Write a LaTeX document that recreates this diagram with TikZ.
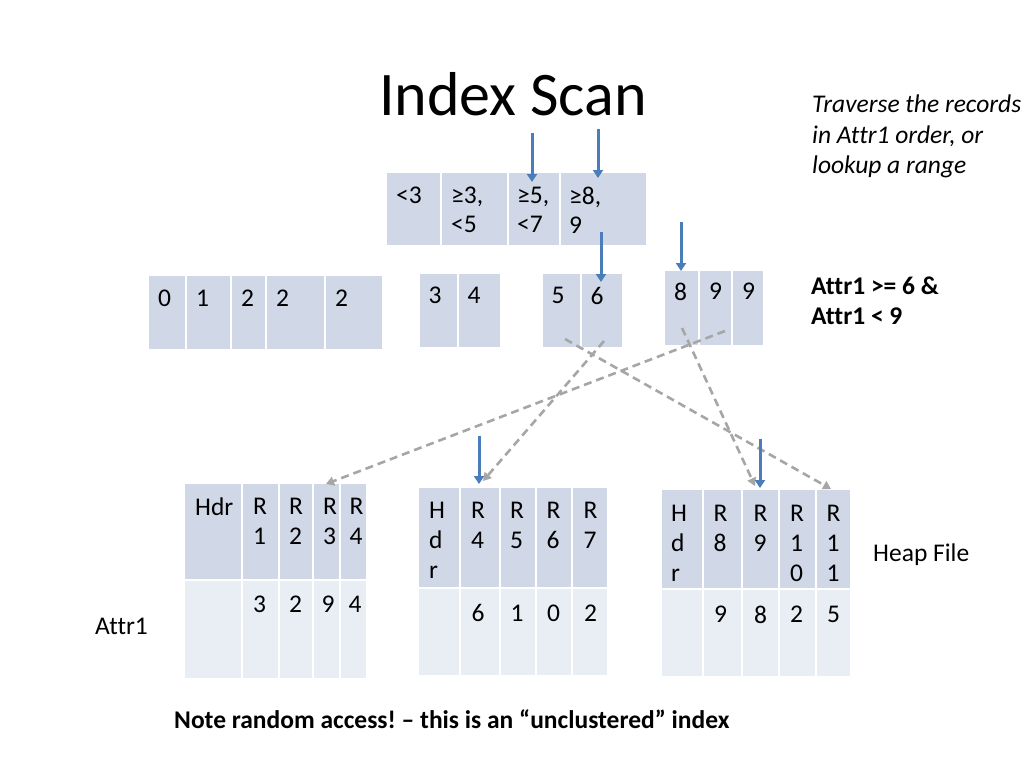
\documentclass[tikz,border=0pt]{standalone}
\usepackage{fontspec}
\setmainfont[Ligatures={TeX,NoCommon}]{Carlito}
\frenchspacing
\usetikzlibrary{arrows.meta,calc}
\definecolor{hdr}{HTML}{D0D8E8}
\definecolor{low}{HTML}{E9EDF4}
\definecolor{blu}{HTML}{4A7EBB}
\definecolor{gry}{HTML}{A6A6A6}
\tikzset{
  cellbox/.style={draw=white, line width=1.5pt, inner sep=0pt, outer sep=0pt, anchor=north west},
  celltxt/.style={inner sep=0pt, anchor=north west, align=left, font=\fontsize{25.5}{30}\selectfont},
  ptr/.style={draw=blu, line width=3pt, -{Triangle[length=8pt,width=10pt]}},
  link/.style={draw=gry, line width=2.6pt, dash pattern=on 8pt off 5pt, -{Triangle[length=8pt,width=9pt]}},
  lbl/.style={inner sep=0pt, font=\fontsize{25.5}{30}\selectfont},
}
\newcommand\mkcell[9]{%
  \node[cellbox, fill=#6, minimum width={#4-#2}, minimum height={#5-#3}] (#1) at (#2,#3) {};
  \node[celltxt] (#1t) at ($(#1.north west)+(#7,#8)$) {#9};
}
\begin{document}
\begin{tikzpicture}[x=1pt,y=-1pt]
\useasboundingbox (0,0) rectangle (1024,768);

% title and labels
\node[inner sep=0pt, anchor=base, font=\fontsize{62}{72}\selectfont] (title) at (513,115) {Index Scan};
\node[lbl, anchor=north west, align=left, font=\itshape\fontsize{25.5}{30.5}\selectfont] (note1) at (812,95) {Traverse the records\\in Attr1 order, or\\lookup a range};
\node[lbl, anchor=north west, align=left, font=\bfseries\fontsize{25.5}{30}\selectfont] (cond) at (811,277) {Attr1 >= 6 \&\\Attr1 < 9};
\node[lbl, anchor=base west] (heap) at (873,561) {Heap File};
\node[lbl, anchor=base west] (attr) at (95,634) {Attr1};
\node[lbl, anchor=base west, font=\bfseries\fontsize{25.5}{30}\selectfont] (note2) at (174,728) {Note random access! – this is an “unclustered” index};

% index node
\begin{scope}[celltxt/.append style={font=\fontsize{25.5}{28.5}\selectfont}]
\mkcell{i1}{386}{172}{441}{246}{hdr}{10}{15}{<3}
\mkcell{i2}{441}{172}{508}{246}{hdr}{10}{15}{≥3,\\<5}
\mkcell{i3}{508}{172}{560}{246}{hdr}{9}{15}{≥5,\\<7}
\mkcell{i4}{560}{172}{647}{246}{hdr}{9}{15}{≥8,\\9}
\end{scope}

% leaves
\mkcell{l1a}{148}{275}{186}{350}{hdr}{10}{14.5}{0}
\mkcell{l1b}{186}{275}{231}{350}{hdr}{10}{14.5}{1}
\mkcell{l1c}{231}{275}{266}{350}{hdr}{10}{14.5}{2}
\mkcell{l1d}{266}{275}{325}{350}{hdr}{10}{14.5}{2}
\mkcell{l1e}{325}{275}{383}{350}{hdr}{10}{14.5}{2}

\mkcell{l2a}{419}{273}{458}{348}{hdr}{9.5}{14}{3}
\mkcell{l2b}{458}{273}{501}{348}{hdr}{9.5}{14}{4}

\mkcell{l3a}{542}{273}{581}{348}{hdr}{9.5}{14}{5}
\mkcell{l3b}{581}{273}{623}{348}{hdr}{9.5}{14}{6}

\mkcell{l4a}{664}{270}{699}{346}{hdr}{10}{13}{8}
\mkcell{l4b}{699}{270}{732}{346}{hdr}{10}{13}{9}
\mkcell{l4c}{732}{270}{764}{346}{hdr}{10}{13}{9}

% heap page 1
\mkcell{h1a}{184}{483}{242}{580}{hdr}{11}{14.5}{Hdr}
\mkcell{h1b}{242}{483}{279}{580}{hdr}{11}{15}{R\\1}
\mkcell{h1c}{279}{483}{313}{580}{hdr}{10}{15}{R\\2}
\mkcell{h1d}{313}{483}{340}{580}{hdr}{10}{15}{R\\3}
\mkcell{h1e}{340}{483}{367}{580}{hdr}{9.5}{15}{R\\4}
\mkcell{v1a}{184}{580}{242}{679}{low}{11}{16}{}
\mkcell{v1b}{242}{580}{279}{679}{low}{11}{16}{3}
\mkcell{v1c}{279}{580}{313}{679}{low}{10}{16}{2}
\mkcell{v1d}{313}{580}{340}{679}{low}{8.5}{16}{9}
\mkcell{v1e}{340}{580}{367}{679}{low}{8.5}{16}{4}

% heap page 2
\mkcell{h2a}{418}{487}{460}{588}{hdr}{11}{15}{H\\d\\r}
\mkcell{h2b}{460}{487}{500}{588}{hdr}{11}{15}{R\\4}
\mkcell{h2c}{500}{487}{536}{588}{hdr}{10}{15}{R\\5}
\mkcell{h2d}{536}{487}{572}{588}{hdr}{10.5}{15}{R\\6}
\mkcell{h2e}{572}{487}{608}{588}{hdr}{11.5}{15}{R\\7}
\mkcell{v2a}{418}{588}{460}{676}{low}{11}{16.5}{}
\mkcell{v2b}{460}{588}{500}{676}{low}{11.5}{16.5}{6}
\mkcell{v2c}{500}{588}{536}{676}{low}{10.5}{16.5}{1}
\mkcell{v2d}{536}{588}{572}{676}{low}{11}{16.5}{0}
\mkcell{v2e}{572}{588}{608}{676}{low}{12}{16.5}{2}

% heap page 3
\mkcell{h3a}{661}{489}{703}{589}{hdr}{10}{15.5}{H\\d\\r}
\mkcell{h3b}{703}{489}{742}{589}{hdr}{10.5}{15.5}{R\\8}
\mkcell{h3c}{742}{489}{779}{589}{hdr}{11.5}{15.5}{R\\9}
\mkcell{h3d}{779}{489}{816}{589}{hdr}{11}{15.5}{R\\1\\0}
\mkcell{h3e}{816}{489}{851}{589}{hdr}{10.5}{15.5}{R\\1\\1}
\mkcell{v3a}{661}{589}{703}{677}{low}{11}{16.5}{}
\mkcell{v3b}{703}{589}{742}{677}{low}{11}{16.5}{9}
\mkcell{v3c}{742}{589}{779}{677}{low}{12}{16.5}{8}
\mkcell{v3d}{779}{589}{816}{677}{low}{11}{16.5}{2}
\mkcell{v3e}{816}{589}{851}{677}{low}{11}{16.5}{5}

% dashed links leaf entry -> record
\coordinate (s1) at (565,339);
\coordinate (e1) at (831,489);
\coordinate (s2) at (604,341);
\coordinate (e2) at (483,481);
\coordinate (s3) at (682,328);
\coordinate (e3) at (755,486);
\coordinate (s4) at (725,331);
\coordinate (e4) at (326,484);
\draw[link] (s1) -- (e1);
\draw[link] (s2) -- (e2);
\draw[link] (s3) -- (e3);
\draw[link] (s4) -- (e4);

% blue pointers
\coordinate (p1s) at (532,133); \coordinate (p1e) at (532,182);
\coordinate (p2s) at (598,129); \coordinate (p2e) at (598,178);
\coordinate (p3s) at (601,232); \coordinate (p3e) at (601,282);
\coordinate (p4s) at (681,222); \coordinate (p4e) at (681,271);
\coordinate (p5s) at (479,436); \coordinate (p5e) at (479,484);
\coordinate (p6s) at (760,439); \coordinate (p6e) at (760,488);
\draw[ptr] (p1s) -- (p1e);
\draw[ptr] (p2s) -- (p2e);
\draw[ptr] (p3s) -- (p3e);
\draw[ptr] (p4s) -- (p4e);
\draw[ptr] (p5s) -- (p5e);
\draw[ptr] (p6s) -- (p6e);
\end{tikzpicture}
\end{document}
